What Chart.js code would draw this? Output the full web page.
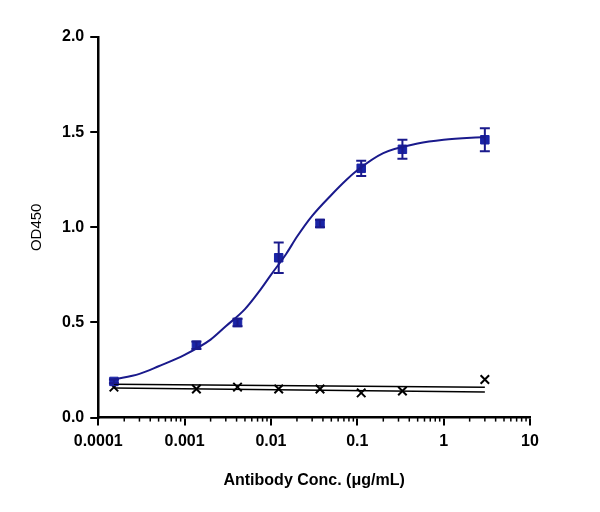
<!DOCTYPE html>
<html><head><meta charset="utf-8">
<script src="https://cdn.jsdelivr.net/npm/chart.js@4"></script>
<style>body{margin:0;background:#fff}#wrap{width:600px;height:512px}</style>
</head><body><div id="wrap"><canvas id="c"></canvas></div>
<script>
const conc = [0.000152, 0.00137, 0.0041, 0.0123, 0.037, 0.111, 0.333, 3];
const antibody = [0.19, 0.38, 0.50, 0.84, 1.02, 1.31, 1.41, 1.46];
const antibodyErr = [0.01, 0.02, 0.02, 0.08, 0.02, 0.04, 0.05, 0.06];
const control = [0.16, 0.15, 0.16, 0.15, 0.15, 0.13, 0.14, 0.20];
const fitX = [0.000152, 0.0003, 0.0005, 0.001, 0.002, 0.003, 0.005, 0.0075, 0.01, 0.015, 0.02, 0.03, 0.05, 0.075, 0.1, 0.2, 0.5, 1, 3];
const fitY = [0.20, 0.23, 0.27, 0.33, 0.41, 0.48, 0.57, 0.67, 0.75, 0.86, 0.95, 1.06, 1.17, 1.25, 1.30, 1.39, 1.44, 1.46, 1.475];
const ctrlFitA = [[0.000152, 0.175], [3, 0.16]];
const ctrlFitB = [[0.000152, 0.155], [3, 0.135]];
const xTicks = [0.0001, 0.001, 0.01, 0.1, 1, 10];

const xy = (xs, ys) => xs.map((x, i) => ({x: x, y: ys[i]}));
const pairs = p => p.map(a => ({x: a[0], y: a[1]}));

const extras = {
  id: 'extras',
  afterDatasetsDraw(chart) {
    const {ctx, scales: {x, y}} = chart;
    ctx.save();
    ctx.strokeStyle = '#1a1a8c'; ctx.lineWidth = 2;
    conc.forEach((c, i) => {
      const px = x.getPixelForValue(c);
      const t = y.getPixelForValue(antibody[i] + antibodyErr[i]);
      const b = y.getPixelForValue(antibody[i] - antibodyErr[i]);
      ctx.beginPath();
      ctx.moveTo(px, t); ctx.lineTo(px, b);
      ctx.moveTo(px - 5, t); ctx.lineTo(px + 5, t);
      ctx.moveTo(px - 5, b); ctx.lineTo(px + 5, b);
      ctx.stroke();
    });
    // minor log ticks
    ctx.strokeStyle = '#000'; ctx.lineWidth = 1.5;
    const by = y.getPixelForValue(0);
    for (let d = 0.0001; d < 10; d *= 10) {
      for (let k = 2; k <= 9; k++) {
        const px = x.getPixelForValue(d * k);
        ctx.beginPath(); ctx.moveTo(px, by); ctx.lineTo(px, by + 4); ctx.stroke();
      }
    }
    ctx.restore();
  }
};

new Chart(document.getElementById('c'), {
  type: 'scatter',
  data: {
    datasets: [
      {data: xy(fitX, fitY), showLine: true, borderColor: '#1a1a8c', borderWidth: 2, pointRadius: 0, cubicInterpolationMode: 'monotone'},
      {data: pairs(ctrlFitA), showLine: true, borderColor: '#000', borderWidth: 1.5, pointRadius: 0},
      {data: pairs(ctrlFitB), showLine: true, borderColor: '#000', borderWidth: 1.5, pointRadius: 0},
      {data: xy(conc, antibody), pointStyle: 'rect', pointRadius: 6, backgroundColor: '#1a24a6', borderColor: '#1a24a6'},
      {data: xy(conc, control), pointStyle: 'crossRot', pointRadius: 6, borderColor: '#000', borderWidth: 2}
    ]
  },
  options: {
    animation: false, responsive: true, maintainAspectRatio: false,
    layout: {padding: {top: 37, right: 70, left: 24, bottom: 18}},
    plugins: {legend: {display: false}, tooltip: {enabled: false}},
    scales: {
      x: {
        type: 'logarithmic', min: 0.0001, max: 10,
        afterBuildTicks: s => { s.ticks = xTicks.map(v => ({value: v})); },
        ticks: {color: '#000', font: {family: 'Arial, Liberation Sans', size: 16, weight: 'bold'},
                callback: v => String(v), maxRotation: 0, padding: 6},
        grid: {drawOnChartArea: false, color: '#000', lineWidth: 2, tickLength: 8},
        border: {color: '#000', width: 2.5},
        title: {display: true, text: 'Antibody Conc. (μg/mL)', color: '#000',
                font: {family: 'Arial, Liberation Sans', size: 16, weight: 'bold'}, padding: {top: 14}}
      },
      y: {
        min: 0, max: 2,
        ticks: {stepSize: 0.5, color: '#000', font: {family: 'Arial, Liberation Sans', size: 16, weight: 'bold'},
                callback: v => v.toFixed(1), padding: 6},
        grid: {drawOnChartArea: false, color: '#000', lineWidth: 2, tickLength: 8},
        border: {color: '#000', width: 2.5},
        title: {display: true, text: 'OD450', color: '#000',
                font: {family: 'Arial, Liberation Sans', size: 15}, padding: {bottom: 10}}
      }
    }
  },
  plugins: [extras]
});
</script></body></html>
